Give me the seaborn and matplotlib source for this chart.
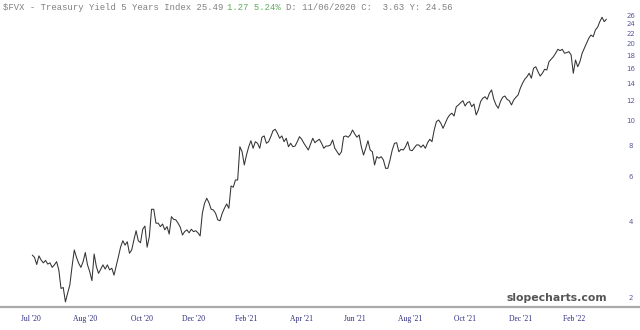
import matplotlib
matplotlib.use("Agg")
import matplotlib.pyplot as plt
import seaborn as sns
import numpy as np
import pandas as pd

# $FVX daily closes (index value = 5Y yield x 10)
values = [
    2.95, 2.89, 2.71, 2.93, 2.82, 2.75, 2.81, 2.72, 2.75, 2.64,
    2.70, 2.78, 2.58, 2.18, 2.20, 1.93, 2.09, 2.25, 2.66, 3.09,
    2.89, 2.74, 2.64, 2.78, 3.02, 2.70, 2.54, 2.34, 2.98, 2.66,
    2.50, 2.60, 2.70, 2.60, 2.70, 2.58, 2.62, 2.46, 2.67, 2.91,
    3.18, 3.36, 3.23, 3.33, 3.00, 3.09, 3.38, 3.68, 3.36, 3.30,
    3.73, 3.84, 3.17, 3.49, 4.47, 4.47, 3.94, 3.94, 3.82, 3.91,
    3.71, 3.82, 3.57, 4.18, 4.08, 4.06, 3.94, 3.80, 3.54, 3.65,
    3.71, 3.61, 3.73, 3.65, 3.68, 3.61, 3.51, 4.31, 4.72, 4.94,
    4.74, 4.47, 4.44, 4.31,
    4.06, 4.03, 4.31, 4.51, 4.69, 4.51, 5.52, 5.46, 5.83, 5.83,
    7.88, 7.53, 6.68, 7.31, 7.88, 8.32, 7.77, 8.25, 8.13, 7.77,
    8.59, 8.69, 8.13, 8.25, 8.63, 9.11, 9.23, 8.91, 8.51, 8.69,
    8.25, 8.51, 7.88, 8.13, 7.88, 7.93, 8.25, 8.63, 8.43, 8.13,
    7.88, 7.65, 8.08, 8.51, 8.17, 8.32, 8.43, 8.13, 7.77, 7.93,
    7.93, 8.01, 8.38, 7.77, 7.53, 7.31, 7.53, 8.63, 8.69, 8.59,
    8.77, 9.17, 8.85, 8.59, 8.77, 7.88, 7.31, 7.77, 8.32, 7.65,
    7.53, 6.68, 7.20, 7.10, 7.20, 6.99, 6.48, 6.48, 6.99, 7.65,
    8.13, 8.17, 7.53, 7.70, 7.65, 7.88, 8.25, 7.65, 7.60, 7.80,
    8.01,
    8.01, 7.84, 8.01, 7.77, 8.17, 8.43, 8.25, 9.17, 9.89, 10.04,
    9.75, 9.31, 9.75, 10.20, 10.51, 10.68, 10.41, 11.33, 11.51, 11.75,
    11.96, 11.40, 11.75, 11.86, 11.33, 11.61, 10.51, 11.00, 11.86,
    12.23, 12.40, 12.11, 12.80, 13.18, 12.11, 11.51, 11.17, 11.86,
    12.34, 12.48, 12.11, 11.96, 11.51, 12.04, 12.34, 12.60, 13.39,
    14.01, 14.52, 14.86, 15.34, 14.66, 16.05, 16.27, 15.56, 14.96, 15.34,
    15.90, 15.80, 17.04, 17.42, 17.83, 18.40, 19.06, 18.83, 19.06,
    18.40, 18.49, 18.66, 18.11, 15.34, 17.30, 16.27, 17.04, 18.40, 19.24,
    20.14, 21.07, 21.70, 21.36, 22.71, 23.29, 24.49, 25.49, 24.49, 25.04,
]

x_tick_pos = [-0.7, 23.9, 49.5, 73.2, 96.8, 122.0, 146.2, 171.1, 196.0, 221.2, 245.3]
x_tick_labels = ["Jul '20", "Aug '20", "Oct '20", "Dec '20", "Feb '21", "Apr '21",
                 "Jun '21", "Aug '21", "Oct '21", "Dec '21", "Feb '22"]
y_ticks = [2, 4, 6, 8, 10, 12, 14, 16, 18, 20, 22, 24, 26]

title_main = "$FVX - Treasury Yield 5 Years Index 25.49"
title_change = "1.27 5.24%"
title_rest = "D: 11/06/2020 C:  3.63 Y: 24.56"

sns.set_theme(style="white")

W, H = 640, 330
fig = plt.figure(figsize=(W / 100, H / 100), dpi=100)
fig.patch.set_facecolor("white")
ax = fig.add_axes([0, 1 - 307 / H, 1, 307 / H])
ax.set_facecolor("white")

df = pd.DataFrame({"day": np.arange(len(values)), "value": values})
sns.lineplot(data=df, x="day", y="value", ax=ax, color="#333333", linewidth=0.75)

ax.set_yscale("log")
ax.set_ylim(1.843, 29.8)
ax.set_xlim(-14.63, 275.2)
ax.minorticks_off()

ax.set_yticks(y_ticks)
ax.set_yticklabels([str(t) for t in y_ticks])
ax.yaxis.tick_right()
ax.tick_params(axis="y", length=0, pad=-6.5, labelsize=5.0, labelcolor="#5a5a9c")
for lbl in ax.get_yticklabels():
    lbl.set_horizontalalignment("center")

ax.set_xticks(x_tick_pos)
ax.set_xticklabels(x_tick_labels, fontfamily="Liberation Serif")
ax.tick_params(axis="x", length=0, pad=5.5, labelsize=5.5, labelcolor="#2a2a80")

ax.set_xlabel("")
ax.set_ylabel("")
for s in ["top", "left", "right"]:
    ax.spines[s].set_visible(False)
ax.spines["bottom"].set_color("#aaaaaa")
ax.spines["bottom"].set_linewidth(1.6)
ax.grid(False)

# title line in monospace with green change segment
fs = 6.4
cw = 0.6 * fs * 100 / 72  # px per char
x0 = 3
yt = 1 - 8 / H
fig.text(x0 / W, yt, title_main, family="Liberation Mono", fontsize=fs,
         color="#808080", va="center", ha="left")
x1 = x0 + (len(title_main) + 1) * cw
fig.text(x1 / W, yt, title_change, family="Liberation Mono", fontsize=fs,
         color="#5cae5c", va="center", ha="left")
x2 = x1 + (len(title_change) + 1) * cw
fig.text(x2 / W, yt, title_rest, family="Liberation Mono", fontsize=fs,
         color="#808080", va="center", ha="left")

fig.text(607 / W, 1 - 298 / H, "slopecharts.com", fontsize=7.8, fontweight="bold",
         color="#555555", ha="right", va="center", family="DejaVu Sans")

fig.savefig("out.png", dpi=100, facecolor="white")
